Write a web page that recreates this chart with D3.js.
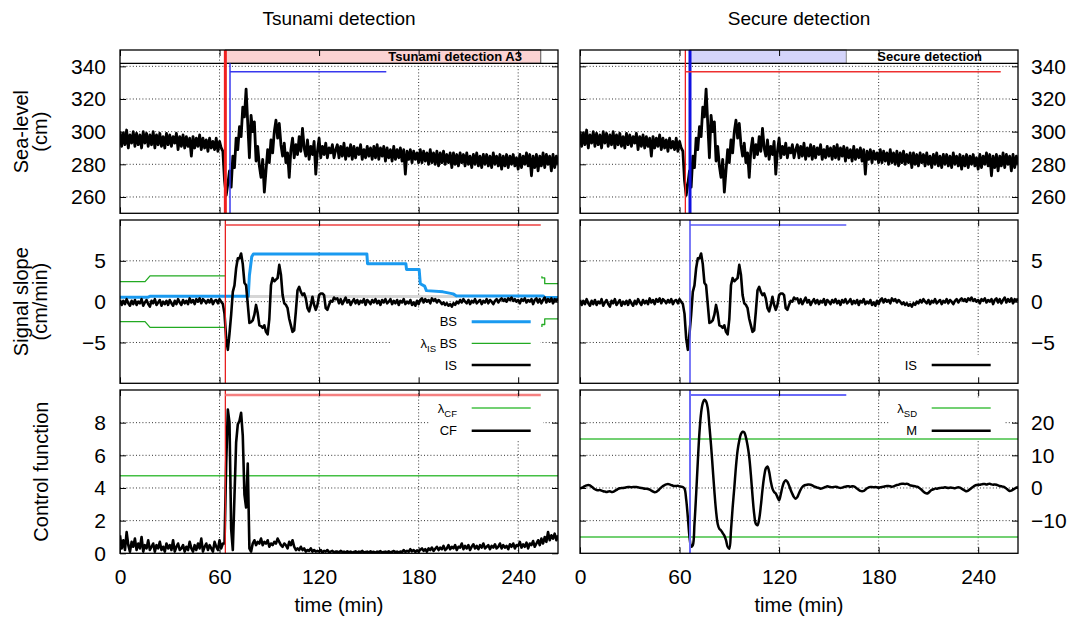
<!DOCTYPE html>
<html>
<head>
<meta charset="utf-8">
<title>Tsunami and secure detection</title>
<script src="https://cdn.jsdelivr.net/npm/d3@7/dist/d3.min.js"></script>
<style>
  html, body { margin: 0; padding: 0; background: #fff; }
  svg text { font-family: "Liberation Sans", Arial, Helvetica, sans-serif; fill: #000; }
</style>
</head>
<body>
<svg id="chart" width="1069" height="623"></svg>
<script>
// ---------------------------------------------------------------------------
// Data: one sample per minute, 0 .. 264 min
// ---------------------------------------------------------------------------
const minutes = d3.range(0, 265);

// Sea level (cm)
const seaLevel = [
  300,291,299,292,301,290,298,293,300,291,
  299,292,298,290,300,293,299,291,298,292,
  300,290,298,292,299,291,297,290,299,292,
  298,291,297,293,299,289,297,291,298,290,
  297,291,296,285,297,290,296,291,298,289,
  296,290,295,288,296,290,294,289,296,288,
  294,
  290,288,270,261,268,276,266,285,278,296,
  289,303,297,315,309,326,305,284,310,300,
  306,282,291,279,272,283,263,276,289,281,
  295,287,300,307,296,305,292,285,293,281,
  287,272,289,296,284,292,286,297,288,302,
  290,285,295,283,291,286,294,274,288,296,
  284,291,286,293,284,290,287,292,284,289,
  292,284,291,285,293,283,290,285,292,283,
  291,284,290,286,292,283,289,284,291,285,
  290,283,291,284,292,283,290,285,291,282,
  290,284,289,282,291,283,289,284,290,282,
  289,274,288,283,289,281,288,283,287,281,
  289,281,288,282,287,280,289,281,287,280,
  288,279,287,281,288,280,286,281,287,278,
  287,280,286,279,287,281,286,279,287,280,
  285,278,286,280,287,279,285,278,286,280,
  286,279,285,278,287,280,285,279,286,277,
  285,279,286,278,285,280,286,279,284,277,
  286,278,285,280,287,279,286,273,285,278,
  286,276,285,279,287,278,286,280,285,276,
  286,278,285,280
];

// Instantaneous signal slope IS (cm/min)
const signalSlope = [
  0.2,-0.4,0.1,-0.3,0.3,-0.2,-0.5,0.1,-0.3,0.2,
  -0.4,0.0,-0.2,0.3,-0.5,-0.1,0.2,-0.3,-0.6,0.1,
  -0.2,0.3,-0.4,-0.1,0.2,-0.5,0.0,-0.3,0.1,-0.4,
  0.2,-0.2,-0.5,0.1,-0.3,0.3,-0.1,-0.4,0.2,-0.2,
  0.1,-0.3,0.4,-0.1,0.2,-0.3,0.3,0.0,0.4,-0.2,
  0.3,0.1,-0.2,0.2,-0.1,0.3,-0.3,0.1,0.2,-0.2,
  0.3,0.0,-0.3,
  -1.5,-4.5,-5.9,-3.9,-1.6,1.2,2.0,4.1,5.3,5.3,
  5.9,4.6,2.3,2.0,-0.3,-2.6,-2.5,-2.3,-1.6,-0.4,
  -1.4,-2.9,-3.0,-3.2,-2.9,-3.7,-4.0,-2.1,2.0,2.9,
  2.5,2.7,2.9,4.5,3.3,0.8,-0.2,-0.4,-0.8,-2.1,
  -2.9,-3.7,-3.5,-1.2,1.4,1.8,1.2,0.8,1.0,0.4,
  -0.8,-1.2,-0.4,0.6,-0.4,-1.0,-0.4,0.8,1.0,1.0,
  0.8,-0.8,-1.0,-0.4,0.1,0.0,0.5,0.3,
  0.4,-0.2,0.3,-0.3,0.1,0.5,-0.1,0.2,-0.4,0.0,
  0.3,-0.2,0.2,-0.3,0.1,-0.1,0.3,-0.4,0.2,0.0,
  -0.3,0.2,-0.1,0.3,-0.2,0.1,-0.4,0.2,-0.1,0.3,
  -0.2,0.0,0.3,-0.3,0.1,-0.2,0.2,-0.4,0.1,-0.1,
  0.3,-0.3,0.0,-0.2,0.2,-0.4,-0.1,-0.5,0.1,-0.3,
  0.2,0.4,-0.1,0.3,0.0,0.2,-0.2,0.4,0.1,0.3,
  -0.1,0.2,0.0,-0.3,-0.1,-0.4,-0.2,-0.5,-0.3,-0.6,
  -0.2,-0.4,0.0,-0.2,0.2,-0.1,0.3,0.0,-0.2,0.2,
  -0.3,0.1,-0.1,0.3,-0.2,0.0,0.2,-0.3,0.1,-0.1,
  0.3,-0.2,0.2,0.0,-0.3,0.1,0.3,-0.1,0.2,0.4,
  0.1,0.3,0.0,0.4,0.2,0.5,0.1,0.3,0.0,0.2,
  -0.2,0.3,0.1,0.4,-0.1,0.2,0.0,0.3,-0.3,0.2,
  0.4,-0.1,0.3,-0.2,0.2,0.5,-0.1,0.3,0.0,0.4,
  -0.2,0.3,0.1,0.4
];

// Control function CF
const controlFunction = [
  1.1,0.3,0.8,0.2,1.3,0.5,0.1,0.7,0.4,0.9,
  0.2,0.6,0.3,1.0,0.1,0.5,0.3,0.8,0.2,0.4,
  0.6,0.1,0.5,0.3,0.7,0.2,0.4,0.1,0.6,0.3,
  0.5,0.2,0.8,0.1,0.4,0.6,0.2,0.3,0.5,0.1,
  0.4,0.2,0.7,0.3,0.1,0.5,0.2,0.6,0.3,0.9,
  0.1,0.4,0.6,0.2,0.5,0.3,0.1,0.7,0.4,0.2,
  0.8,0.3,0.6,
  0.6,5.5,8.8,8.0,1.5,0.2,3.5,6.8,7.9,8.1,
  8.6,7.2,3.6,2.8,5.5,0.3,0.1,
  0.6,0.8,0.5,0.7,0.6,0.9,0.5,0.7,0.6,0.8,
  0.4,0.6,0.5,0.7,0.6,0.9,0.7,0.5,0.4,0.6,
  0.5,0.3,0.7,0.5,0.8,0.4,0.2,0.3,0.2,0.4,
  0.2,0.3,0.1,0.2,0.15,0.3,0.1,0.2,0.1,0.15,
  0.1,0.2,0.05,0.15,0.1,0.2,0.05,0.1,0.15,0.05,
  0.1,
  0.1,0.05,0.15,0.08,0.1,0.05,0.12,0.06,0.1,0.04,
  0.08,0.12,0.05,0.1,0.06,0.15,0.04,0.08,0.1,0.05,
  0.12,0.06,0.09,0.04,0.1,0.07,0.13,0.05,0.08,0.1,
  0.06,0.12,0.05,0.09,0.14,0.06,0.1,0.05,0.11,0.07,
  0.2,0.08,0.15,0.1,0.25,0.12,0.2,0.08,0.18,0.1,
  0.22,0.3,0.15,0.25,0.1,0.3,0.2,0.35,0.15,0.28,
  0.4,0.2,0.35,0.25,0.45,0.2,0.3,0.5,0.25,0.4,
  0.3,0.5,0.2,0.4,0.35,0.6,0.25,0.45,0.3,0.5,
  0.2,0.4,0.55,0.3,0.45,0.25,0.5,0.35,0.6,0.3,
  0.4,0.5,0.25,0.45,0.35,0.55,0.3,0.4,0.6,0.3,
  0.5,0.35,0.45,0.25,0.55,0.4,0.6,0.3,0.5,0.45,
  0.7,0.35,0.55,0.4,0.65,0.3,0.6,0.5,0.75,0.4,
  0.6,0.8,0.5,0.9,0.6,1.0,0.7,1.3,0.8,1.1,
  0.9,1.2,0.8,1.1
];

// Secure-detection measure M
const secureMeasure = [
  -0.2,0.0,0.3,0.6,0.8,0.9,0.8,0.4,0.0,-0.4,
  -0.6,-0.7,-0.6,-0.8,-1.0,-1.1,-1.2,-1.1,-1.0,-1.2,
  -1.2,-0.9,-0.6,-0.3,-0.1,0.0,0.0,0.1,0.2,0.3,
  0.3,0.2,0.3,0.3,0.3,0.2,0.1,0.0,-0.1,-0.2,
  -0.2,-0.3,-0.5,-0.8,-1.1,-1.3,-1.2,-0.8,-0.3,0.2,
  0.6,0.9,1.1,1.2,1.1,0.9,0.7,0.6,0.6,0.7,
  0.5,0.4,0.3,
  -0.2,-3.5,-9.0,-15.0,-18.0,-17.5,-11.0,-2.0,8.0,17.0,
  23.0,26.0,27.0,26.5,24.5,19.0,13.0,6.0,-1.0,-7.0,
  -11.0,-12.5,-13.0,-13.8,-14.6,-16.0,-18.0,-18.6,-13.0,-6.0,
  0.0,6.5,11.5,14.5,16.5,17.2,17.0,15.5,13.0,9.5,
  4.0,-2.5,-8.0,-11.0,-11.4,-9.5,-5.5,-0.5,3.5,6.0,
  6.6,5.0,2.0,-0.2,-1.2,-1.7,-2.8,-3.8,-2.0,0.3,
  1.8,2.4,1.9,0.8,-0.6,-1.8,-2.8,-3.3,-2.8,-1.6,
  -0.5,0.3,0.7,0.9,1.0,1.1,1.0,0.8,0.5,0.3,
  0.1,0.0,-0.2,-0.1,0.1,0.3,0.5,0.4,
  0.3,0.2,0.3,0.4,0.3,0.1,0.0,0.1,0.3,0.4,
  0.5,0.5,0.4,0.5,0.5,0.2,-0.2,-0.6,-0.9,-1.0,
  -0.9,-0.5,-0.1,0.2,0.3,0.3,0.2,0.3,0.2,0.1,
  0.2,0.3,0.4,0.5,0.6,0.6,0.5,0.4,0.5,0.7,
  0.9,1.0,1.2,1.3,1.3,1.2,1.3,1.1,0.8,0.7,
  0.6,0.5,0.4,0.2,-0.2,-0.6,-1.1,-1.5,-1.7,-1.5,
  -1.0,-0.6,-0.4,-0.2,-0.2,-0.1,0.0,0.1,0.1,0.2,
  0.1,0.0,0.1,0.1,0.0,-0.1,0.1,0.2,0.1,-0.2,
  -0.5,-0.8,-1.0,-0.8,-0.4,0.0,0.4,0.7,0.9,1.0,
  1.0,1.1,1.2,1.2,1.1,1.2,1.3,1.1,1.0,1.1,
  1.0,0.8,0.6,0.5,0.4,0.2,-0.2,-0.6,-0.9,-0.8,
  -0.5,-0.2,0.1,0.3
];

// Background slope BS, as [minute, cm/min] breakpoints
const backgroundSlope = [
  [0,0.55],[17,0.55],[18,0.65],[77.3,0.65],[78,3.2],[79.4,5.5],[80.4,5.85],
  [148.8,5.85],[149.2,4.65],[172.3,4.65],[172.7,3.95],[180.3,3.95],[181,2.2],
  [183.6,1.9],[184.7,1.35],[194.7,1.2],[200.8,0.95],[202.8,0.7],[255,0.7],
  [256,0.5],[264,0.5]
];
// Background slope level held before the update
const backgroundSlopeHeld = [[77.5,0.62],[203,0.62]];

// Threshold on IS relative to BS (upper and lower branches, two stretches each)
const lambdaISUpper = [
  [[0,2.45],[15.1,2.45],[18.1,3.15],[63.5,3.15]],
  [[254.3,3.1],[254.3,2.9],[256,2.9],[256,2.2],[264,2.2]]
];
const lambdaISLower = [
  [[0,-2.45],[15.1,-2.45],[18.1,-3.15],[63.5,-3.15]],
  [[254.3,-3.1],[254.3,-2.8],[256,-2.8],[256,-2.1],[264,-2.1]]
];
const lambdaCF = [4.75];
const lambdaSD = [15, -15];

// Detection intervals (minutes)
const tsunamiDetection = [63.5, 253.6];
const secureDetection = [66.3, 160.5];

// Tick values
const timeTicks = [0, 60, 120, 180, 240];
const seaTicks = [260, 280, 300, 320, 340];
const slopeTicks = [-5, 0, 5];
const cfTicks = [0, 2, 4, 6, 8];
const mTicks = [-10, 0, 10, 20];

// ---------------------------------------------------------------------------
// Layout
// ---------------------------------------------------------------------------
const svg = d3.select("#chart");
const cols = [{ x0: 120, x1: 558 }, { x0: 580, x1: 1018 }];
const rows = [{ y0: 50, y1: 213.3 }, { y0: 220, y1: 383.3 }, { y0: 390, y1: 553.3 }];
const BIG = 21, LEG = 13;

const xs = cols.map(c => d3.scaleLinear().domain([0, 264]).range([c.x0, c.x1]));
const ySea = d3.scaleLinear().domain([250, 350]).range([rows[0].y1, rows[0].y0]);
const ySlope = d3.scaleLinear().domain([-10, 10]).range([rows[1].y1, rows[1].y0]);
const yCF = d3.scaleLinear().domain([0, 10]).range([rows[2].y1, rows[2].y0]);
const yM = d3.scaleLinear().domain([-20, 30]).range([rows[2].y1, rows[2].y0]);

const defs = svg.append("defs");

function makePanel(ci, ri, y, yTicks, id) {
  const c = cols[ci], r = rows[ri], x = xs[ci];
  defs.append("clipPath").attr("id", id)
    .append("rect").attr("x", c.x0).attr("y", r.y0)
    .attr("width", c.x1 - c.x0).attr("height", r.y1 - r.y0);
  const g = svg.append("g");
  const grid = g.append("g")
    .attr("stroke", "#333").attr("stroke-width", 1).attr("stroke-dasharray", "1,2.2");
  grid.selectAll(".vx").data(timeTicks.filter(t => t > 0)).join("line")
    .attr("x1", d => x(d)).attr("x2", d => x(d)).attr("y1", r.y0).attr("y2", r.y1);
  grid.selectAll(".hy").data(yTicks.filter(v => y(v) < r.y1 - 1 && y(v) > r.y0 + 1)).join("line")
    .attr("x1", c.x0).attr("x2", c.x1).attr("y1", d => y(d)).attr("y2", d => y(d));
  const bg = g.append("g");
  const marks = g.append("g").attr("clip-path", `url(#${id})`);
  const top = g.append("g");
  return { g, grid, bg, marks, top, x, y, c, r, yTicks };
}

function finishPanel(p) {
  const { top, x, y, c, r, yTicks } = p;
  // inward tick marks on all four sides
  const tick = 6;
  const axes = [
    [d3.axisTop(x).tickValues(timeTicks), `translate(0,${r.y1})`],
    [d3.axisBottom(x).tickValues(timeTicks), `translate(0,${r.y0})`],
    [d3.axisRight(y).tickValues(yTicks), `translate(${c.x0},0)`],
    [d3.axisLeft(y).tickValues(yTicks), `translate(${c.x1},0)`]
  ];
  axes.forEach(([ax, tr]) => {
    const a = top.append("g").attr("transform", tr)
      .call(ax.tickSize(tick).tickFormat(""));
    a.select(".domain").remove();
    a.selectAll("line").attr("stroke", "#000").attr("stroke-width", 1);
  });
  top.append("rect").attr("x", c.x0).attr("y", r.y0)
    .attr("width", c.x1 - c.x0).attr("height", r.y1 - r.y0)
    .attr("fill", "none").attr("stroke", "#000").attr("stroke-width", 1.3);
}

function drawSeries(p, values, opts) {
  const line = d3.line().x((d, i) => p.x(minutes[i])).y(d => p.y(d));
  if (opts.curve) line.curve(opts.curve);
  p.marks.append("path").datum(values)
    .attr("d", line).attr("fill", "none")
    .attr("stroke", opts.color || "#000").attr("stroke-width", opts.width || 2.5)
    .attr("stroke-linejoin", "round");
}

function drawPoints(p, pts, color, width) {
  const line = d3.line().x(d => p.x(d[0])).y(d => p.y(d[1]));
  p.marks.append("path").datum(pts).attr("d", line).attr("fill", "none")
    .attr("stroke", color).attr("stroke-width", width).attr("stroke-linejoin", "round");
}

function hLevel(p, v, color, width) {
  p.marks.append("line").attr("x1", p.c.x0).attr("x2", p.c.x1)
    .attr("y1", p.y(v)).attr("y2", p.y(v))
    .attr("stroke", color).attr("stroke-width", width);
}

function vMarker(p, t, color, width, yStart) {
  p.top.append("line").attr("x1", p.x(t)).attr("x2", p.x(t))
    .attr("y1", yStart == null ? p.r.y0 : yStart).attr("y2", p.r.y1)
    .attr("stroke", color).attr("stroke-width", width);
}

function hSpan(p, span, offset, color, width) {
  p.top.append("line").attr("x1", p.x(span[0])).attr("x2", p.x(span[1]))
    .attr("y1", p.r.y0 + offset).attr("y2", p.r.y0 + offset)
    .attr("stroke", color).attr("stroke-width", width);
}

function legendBox(p, x0, y0, x1, y1) {
  p.bg.append("rect").attr("x", x0).attr("y", y0)
    .attr("width", x1 - x0).attr("height", y1 - y0).attr("fill", "#fff");
}

function legendItem(p, yPos, parts, color, width) {
  const tx = p.c.x1 - 101;
  const t = p.top.append("text").attr("x", tx).attr("y", yPos)
    .attr("dy", "0.36em").attr("text-anchor", "end").attr("font-size", LEG);
  parts.forEach(part => {
    const s = t.append("tspan").text(part.text);
    if (part.sub) s.attr("font-size", 9.5).attr("dy", 4);
    if (part.back) s.attr("dy", -4);
  });
  p.top.append("line").attr("x1", p.c.x1 - 86.3).attr("x2", p.c.x1 - 27.3)
    .attr("y1", yPos).attr("y2", yPos).attr("stroke", color).attr("stroke-width", width);
}

function header(p, span, fill, stroke, label) {
  const hb = p.r.y0 + 13.3;
  p.top.append("rect").attr("x", p.x(span[0])).attr("y", p.r.y0)
    .attr("width", p.x(span[1]) - p.x(span[0])).attr("height", hb - p.r.y0)
    .attr("fill", fill).attr("stroke", stroke).attr("stroke-width", 1);
  p.top.append("line").attr("x1", p.c.x0).attr("x2", p.c.x1)
    .attr("y1", hb).attr("y2", hb).attr("stroke", "#000").attr("stroke-width", 1.2);
  p.top.append("text").attr("x", p.c.x1 - 36).attr("y", p.r.y0 + 11)
    .attr("text-anchor", "end").attr("font-size", 13).attr("font-weight", "bold")
    .text(label);
  return hb;
}

// ---------------------------------------------------------------------------
// Panels
// ---------------------------------------------------------------------------
const pSeaL = makePanel(0, 0, ySea, seaTicks, "c00");
const pSeaR = makePanel(1, 0, ySea, seaTicks, "c10");
const pSlopeL = makePanel(0, 1, ySlope, slopeTicks, "c01");
const pSlopeR = makePanel(1, 1, ySlope, slopeTicks, "c11");
const pCF = makePanel(0, 2, yCF, cfTicks, "c02");
const pM = makePanel(1, 2, yM, mTicks, "c12");

// Sea level
drawSeries(pSeaL, seaLevel, { width: 2.8 });
drawSeries(pSeaR, seaLevel, { width: 2.8 });

// Signal slope (left: with BS and thresholds)
legendBox(pSlopeL, 391, 310, 540, 381);
drawPoints(pSlopeL, backgroundSlopeHeld, "#d6d6d6", 3);
lambdaISUpper.concat(lambdaISLower).forEach(seg => drawPoints(pSlopeL, seg, "#22aa22", 1.3));
drawPoints(pSlopeL, backgroundSlope, "#1a9af0", 3);
drawSeries(pSlopeL, signalSlope, { width: 2.6 });
legendBox(pSlopeR, 900, 355, 1000, 381);
drawSeries(pSlopeR, signalSlope, { width: 2.6 });

// Control function and secure measure
legendBox(pCF, 430, 398, 543, 441);
hLevel(pCF, lambdaCF[0], "#44c044", 1.6);
drawSeries(pCF, controlFunction, { width: 2.6 });
legendBox(pM, 890, 398, 1005, 441);
lambdaSD.forEach(v => hLevel(pM, v, "#44c044", 1.6));
drawSeries(pM, secureMeasure, { width: 2.5, curve: d3.curveCatmullRom });

// Detection headers and markers
header(pSeaL, tsunamiDetection, "#fbd2d2", "#555", "Tsunami detection A3");
header(pSeaR, secureDetection, "#d4d4fa", "#888", "Secure detection");

vMarker(pSeaL, tsunamiDetection[0], "#f02020", 3);
vMarker(pSeaL, secureDetection[0], "#3838ee", 1.5, pSeaL.r.y0 + 13.3);
hSpan(pSeaL, secureDetection, 21.7, "#3838ee", 1.5);

vMarker(pSeaR, tsunamiDetection[0], "#f02020", 1.3);
vMarker(pSeaR, secureDetection[0], "#1010e0", 3);
hSpan(pSeaR, tsunamiDetection, 21.7, "#ee3030", 1.5);

vMarker(pSlopeL, tsunamiDetection[0], "#e82020", 1.3);
hSpan(pSlopeL, tsunamiDetection, 5, "#ee4040", 1.3);
vMarker(pSlopeR, secureDetection[0], "#5a5af5", 1.6);
hSpan(pSlopeR, secureDetection, 5, "#5a5af5", 1.6);

vMarker(pCF, tsunamiDetection[0], "#e82020", 1.3);
hSpan(pCF, tsunamiDetection, 5, "#f58080", 2.6);
vMarker(pM, secureDetection[0], "#6a6af8", 2);
hSpan(pM, secureDetection, 5, "#6a6af8", 2);

// Legends
legendItem(pSlopeL, 321.7, [{ text: "BS" }], "#1a9af0", 3);
legendItem(pSlopeL, 343.3, [{ text: "λ" }, { text: "IS", sub: true }, { text: " BS", back: true }], "#22aa22", 1.3);
legendItem(pSlopeL, 365, [{ text: "IS" }], "#000", 2.5);
legendItem(pSlopeR, 365, [{ text: "IS" }], "#000", 2.5);
legendItem(pCF, 408, [{ text: "λ" }, { text: "CF", sub: true }], "#44c044", 1.6);
legendItem(pCF, 430.7, [{ text: "CF" }], "#000", 2.5);
legendItem(pM, 408, [{ text: "λ" }, { text: "SD", sub: true }], "#44c044", 1.6);
legendItem(pM, 430.7, [{ text: "M" }], "#000", 2.5);

[pSeaL, pSeaR, pSlopeL, pSlopeR, pCF, pM].forEach(finishPanel);

// ---------------------------------------------------------------------------
// Tick labels and axis titles
// ---------------------------------------------------------------------------
function styleLabels(a) {
  a.select(".domain").remove();
  a.attr("font-family", null).attr("font-size", BIG);
  a.selectAll("text").attr("fill", "#000").attr("font-size", BIG);
}
[[ySea, seaTicks], [ySlope, slopeTicks], [yCF, cfTicks]].forEach(([y, t]) => {
  svg.append("g").attr("transform", `translate(${cols[0].x0},0)`)
    .call(d3.axisLeft(y).tickValues(t).tickSize(0).tickPadding(14)).call(styleLabels);
});
[[ySea, seaTicks], [ySlope, slopeTicks], [yM, mTicks]].forEach(([y, t]) => {
  svg.append("g").attr("transform", `translate(${cols[1].x1},0)`)
    .call(d3.axisRight(y).tickValues(t).tickSize(0).tickPadding(13)).call(styleLabels);
});
xs.forEach(x => {
  svg.append("g").attr("transform", `translate(0,${rows[2].y1})`)
    .call(d3.axisBottom(x).tickValues(timeTicks).tickSize(0).tickPadding(16)).call(styleLabels);
});

const titles = ["Tsunami detection", "Secure detection"];
cols.forEach((c, i) => {
  const cx = (c.x0 + c.x1) / 2;
  svg.append("text").attr("x", cx).attr("y", 25).attr("text-anchor", "middle")
    .attr("font-size", BIG - 2).text(titles[i]);
  svg.append("text").attr("x", cx).attr("y", 612).attr("text-anchor", "middle")
    .attr("font-size", BIG - 1).text("time (min)");
});

function yTitle(lines, xPos, cy) {
  lines.forEach((s, i) => {
    svg.append("text").attr("transform", `translate(${xPos[i]},${cy}) rotate(-90)`)
      .attr("text-anchor", "middle").attr("font-size", BIG - 1).text(s);
  });
}
yTitle(["Sea-level", "(cm)"], [28, 47], (rows[0].y0 + rows[0].y1) / 2);
yTitle(["Signal slope", "(cm/min)"], [28, 47], (rows[1].y0 + rows[1].y1) / 2);
yTitle(["Control function"], [48], (rows[2].y0 + rows[2].y1) / 2);
</script>
</body>
</html>
